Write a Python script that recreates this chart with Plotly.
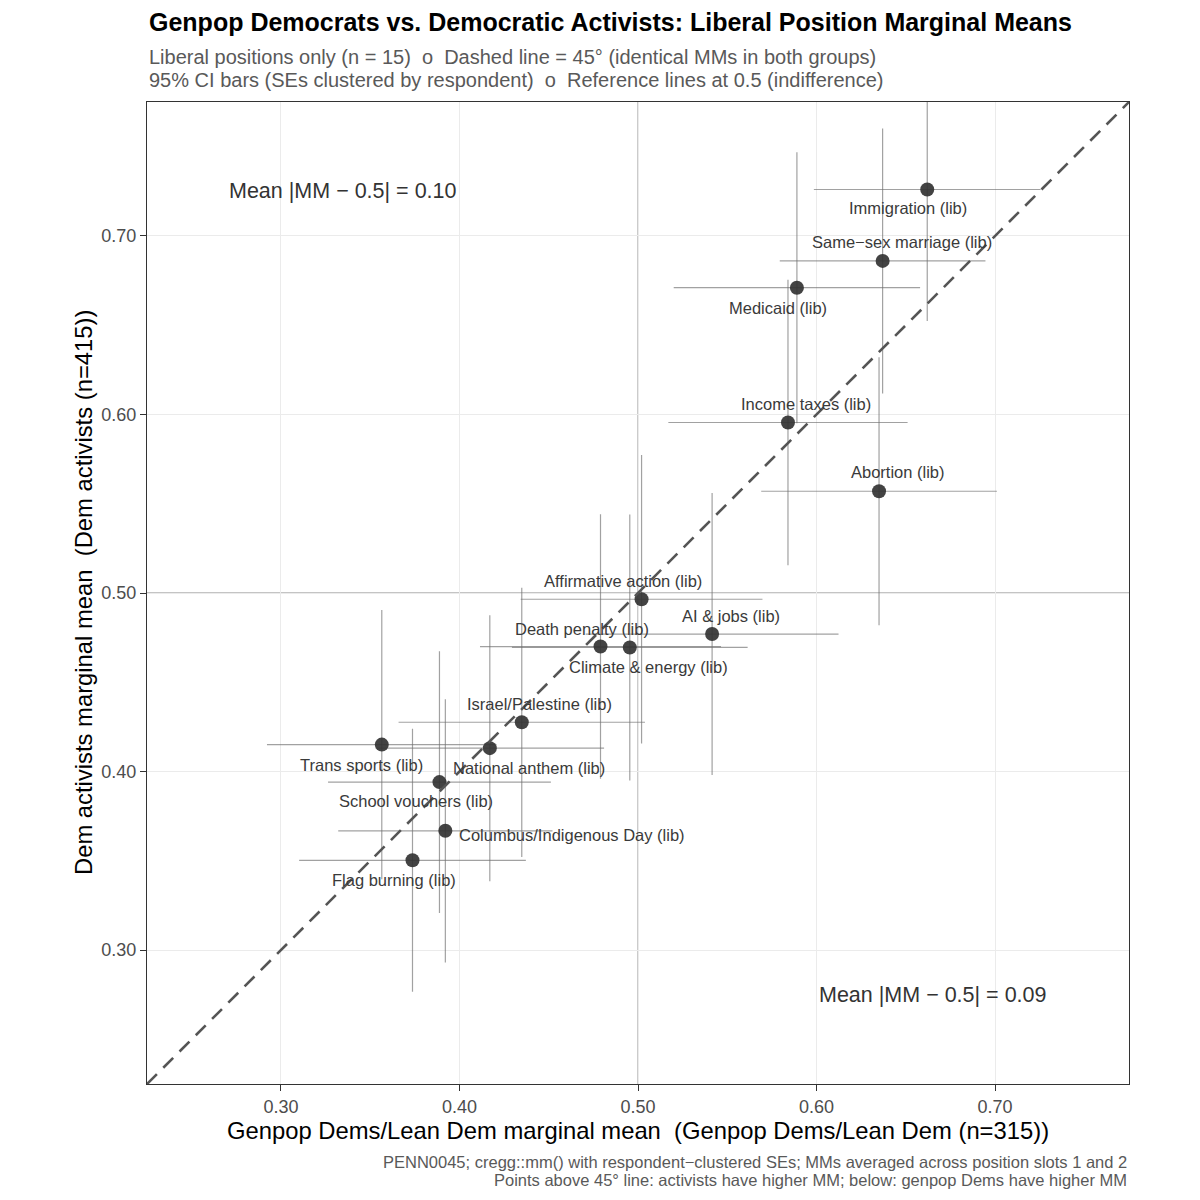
import plotly.graph_objects as go

# liberal positions, marginal means
positions = [
    "Immigration (lib)",
    "Same−sex marriage (lib)",
    "Medicaid (lib)",
    "Income taxes (lib)",
    "Abortion (lib)",
    "Affirmative action (lib)",
    "AI & jobs (lib)",
    "Death penalty (lib)",
    "Climate & energy (lib)",
    "Israel/Palestine (lib)",
    "Trans sports (lib)",
    "National anthem (lib)",
    "School vouchers (lib)",
    "Columbus/Indigenous Day (lib)",
    "Flag burning (lib)",
]
genpop_mm = [0.662, 0.637, 0.589, 0.584, 0.635, 0.502, 0.5415, 0.479, 0.4954,
             0.4349, 0.3565, 0.417, 0.3888, 0.3921, 0.3737]
activist_mm = [0.726, 0.686, 0.671, 0.5955, 0.557, 0.4965, 0.477, 0.470, 0.4695,
               0.4276, 0.4151, 0.4131, 0.3941, 0.3668, 0.3503]
# half widths of the 95% CIs
genpop_ci = [0.0635, 0.0576, 0.069, 0.067, 0.066, 0.0677, 0.0708, 0.0675, 0.066,
             0.069, 0.0643, 0.064, 0.0624, 0.060, 0.0635]
activist_ci = [0.0736, 0.0742, 0.0759, 0.080, 0.075, 0.0808, 0.079, 0.0741, 0.0745,
               0.0754, 0.0754, 0.0745, 0.0733, 0.0737, 0.0737]

mean_dev_activists = 0.10
mean_dev_genpop = 0.09

# label offsets in px (xshift, yshift, xanchor) - roughly where ggrepel put them
label_offsets = [
    (-19, -19, "center"), (19, 19, "center"), (-19, -20, "center"),
    (18, 18, "center"), (19, 19, "center"), (-19, 18, "center"),
    (19, 18, "center"), (-19, 18, "center"), (19, -20, "center"),
    (18, 18, "center"), (-20, -20, "center"), (39, -20, "center"),
    (-23, -19, "center"), (12, -4, "left"), (-19, -20, "center"),
]

lo, hi = 0.225, 0.775
FONT = "Liberation Sans, Arial, Helvetica, sans-serif"


def py(pix):
    # page pixel row -> paper y (plot area is rows 102..1084 on the page)
    return (1084 - pix) / 982


fig = go.Figure()

fig.add_trace(
    go.Scatter(
        x=genpop_mm,
        y=activist_mm,
        mode="markers",
        marker=dict(size=14, color="rgba(51,51,51,0.92)"),
        error_x=dict(type="data", array=genpop_ci, width=0, thickness=1.2,
                     color="rgba(110,110,110,0.65)"),
        error_y=dict(type="data", array=activist_ci, width=0, thickness=1.2,
                     color="rgba(110,110,110,0.65)"),
        text=positions,
        hoverinfo="text",
        showlegend=False,
    )
)

# reference lines at 0.5 and the 45 degree line
fig.add_shape(type="line", x0=0.5, x1=0.5, y0=0, y1=1, xref="x", yref="paper",
              line=dict(color="#b0b0b0", width=1.3), layer="below")
fig.add_shape(type="line", y0=0.5, y1=0.5, x0=0, x1=1, yref="y", xref="paper",
              line=dict(color="#b0b0b0", width=1.3), layer="below")
fig.add_shape(type="line", x0=lo, y0=lo, x1=hi, y1=hi, xref="x", yref="y",
              line=dict(color="#555555", width=2.6, dash="14px,9px"))

for name, x, y, (dx, dy, anc) in zip(positions, genpop_mm, activist_mm, label_offsets):
    fig.add_annotation(x=x, y=y, text=name, showarrow=False, xshift=dx, yshift=dy,
                       xanchor=anc, font=dict(family=FONT, size=16.5, color="#3a3a3a"))

fig.add_annotation(x=0.335, y=0.725, text=f"Mean |MM − 0.5| = {mean_dev_activists:.2f}",
                   showarrow=False, font=dict(family=FONT, size=21.5, color="#333333"))
fig.add_annotation(x=0.665, y=0.275, text=f"Mean |MM − 0.5| = {mean_dev_genpop:.2f}",
                   showarrow=False, font=dict(family=FONT, size=21.5, color="#333333"))

# titles
fig.add_annotation(xref="paper", yref="paper", x=0, y=py(22), xanchor="left", yanchor="middle",
                   text="<b>Genpop Democrats vs. Democratic Activists: Liberal Position Marginal Means</b>",
                   showarrow=False, font=dict(family=FONT, size=25, color="black"))
fig.add_annotation(xref="paper", yref="paper", x=0, y=py(57), xanchor="left", yanchor="middle",
                   text="Liberal positions only (n = 15)\u00a0\u00a0o\u00a0\u00a0Dashed line = 45° (identical MMs in both groups)",
                   showarrow=False, font=dict(family=FONT, size=20, color="#595959"))
fig.add_annotation(xref="paper", yref="paper", x=0, y=py(80), xanchor="left", yanchor="middle",
                   text="95% CI bars (SEs clustered by respondent)\u00a0\u00a0o\u00a0\u00a0Reference lines at 0.5 (indifference)",
                   showarrow=False, font=dict(family=FONT, size=20, color="#595959"))
fig.add_annotation(xref="paper", yref="paper", x=0.5, y=py(1130), yanchor="middle",
                   text="Genpop Dems/Lean Dem marginal mean\u00a0\u00a0(Genpop Dems/Lean Dem (n=315))",
                   showarrow=False, font=dict(family=FONT, size=23.8, color="black"))
fig.add_annotation(xref="paper", yref="paper", x=(83 - 147) / 982, y=0.5, textangle=-90,
                   xanchor="center", yanchor="middle",
                   text="Dem activists marginal mean\u00a0\u00a0(Dem activists (n=415))",
                   showarrow=False, font=dict(family=FONT, size=23.8, color="black"))
fig.add_annotation(xref="paper", yref="paper", x=1, y=py(1162), xanchor="right", yanchor="middle",
                   text="PENN0045; cregg::mm() with respondent−clustered SEs; MMs averaged across position slots 1 and 2",
                   showarrow=False, font=dict(family=FONT, size=16.5, color="#595959"))
fig.add_annotation(xref="paper", yref="paper", x=1, y=py(1180), xanchor="right", yanchor="middle",
                   text="Points above 45° line: activists have higher MM; below: genpop Dems have higher MM",
                   showarrow=False, font=dict(family=FONT, size=16.5, color="#595959"))

axis_style = dict(
    range=[lo, hi],
    tickvals=[0.3, 0.4, 0.5, 0.6, 0.7],
    tickformat=".2f",
    showgrid=True,
    gridcolor="#ebebeb",
    gridwidth=1.3,
    zeroline=False,
    showline=True,
    mirror=True,
    linecolor="#333333",
    linewidth=1.2,
    ticks="outside",
    ticklen=6,
    tickwidth=1.2,
    tickcolor="#333333",
    tickfont=dict(family=FONT, size=18, color="#4d4d4d"),
)
fig.update_xaxes(**axis_style)
fig.update_yaxes(**axis_style)

# page body has an 8px margin, so margins are 8px smaller than the target positions
fig.update_layout(
    width=1200,
    height=1200,
    margin=dict(l=139, r=79, t=94, b=124),
    paper_bgcolor="white",
    plot_bgcolor="white",
    showlegend=False,
)

fig.write_html("out.html")
